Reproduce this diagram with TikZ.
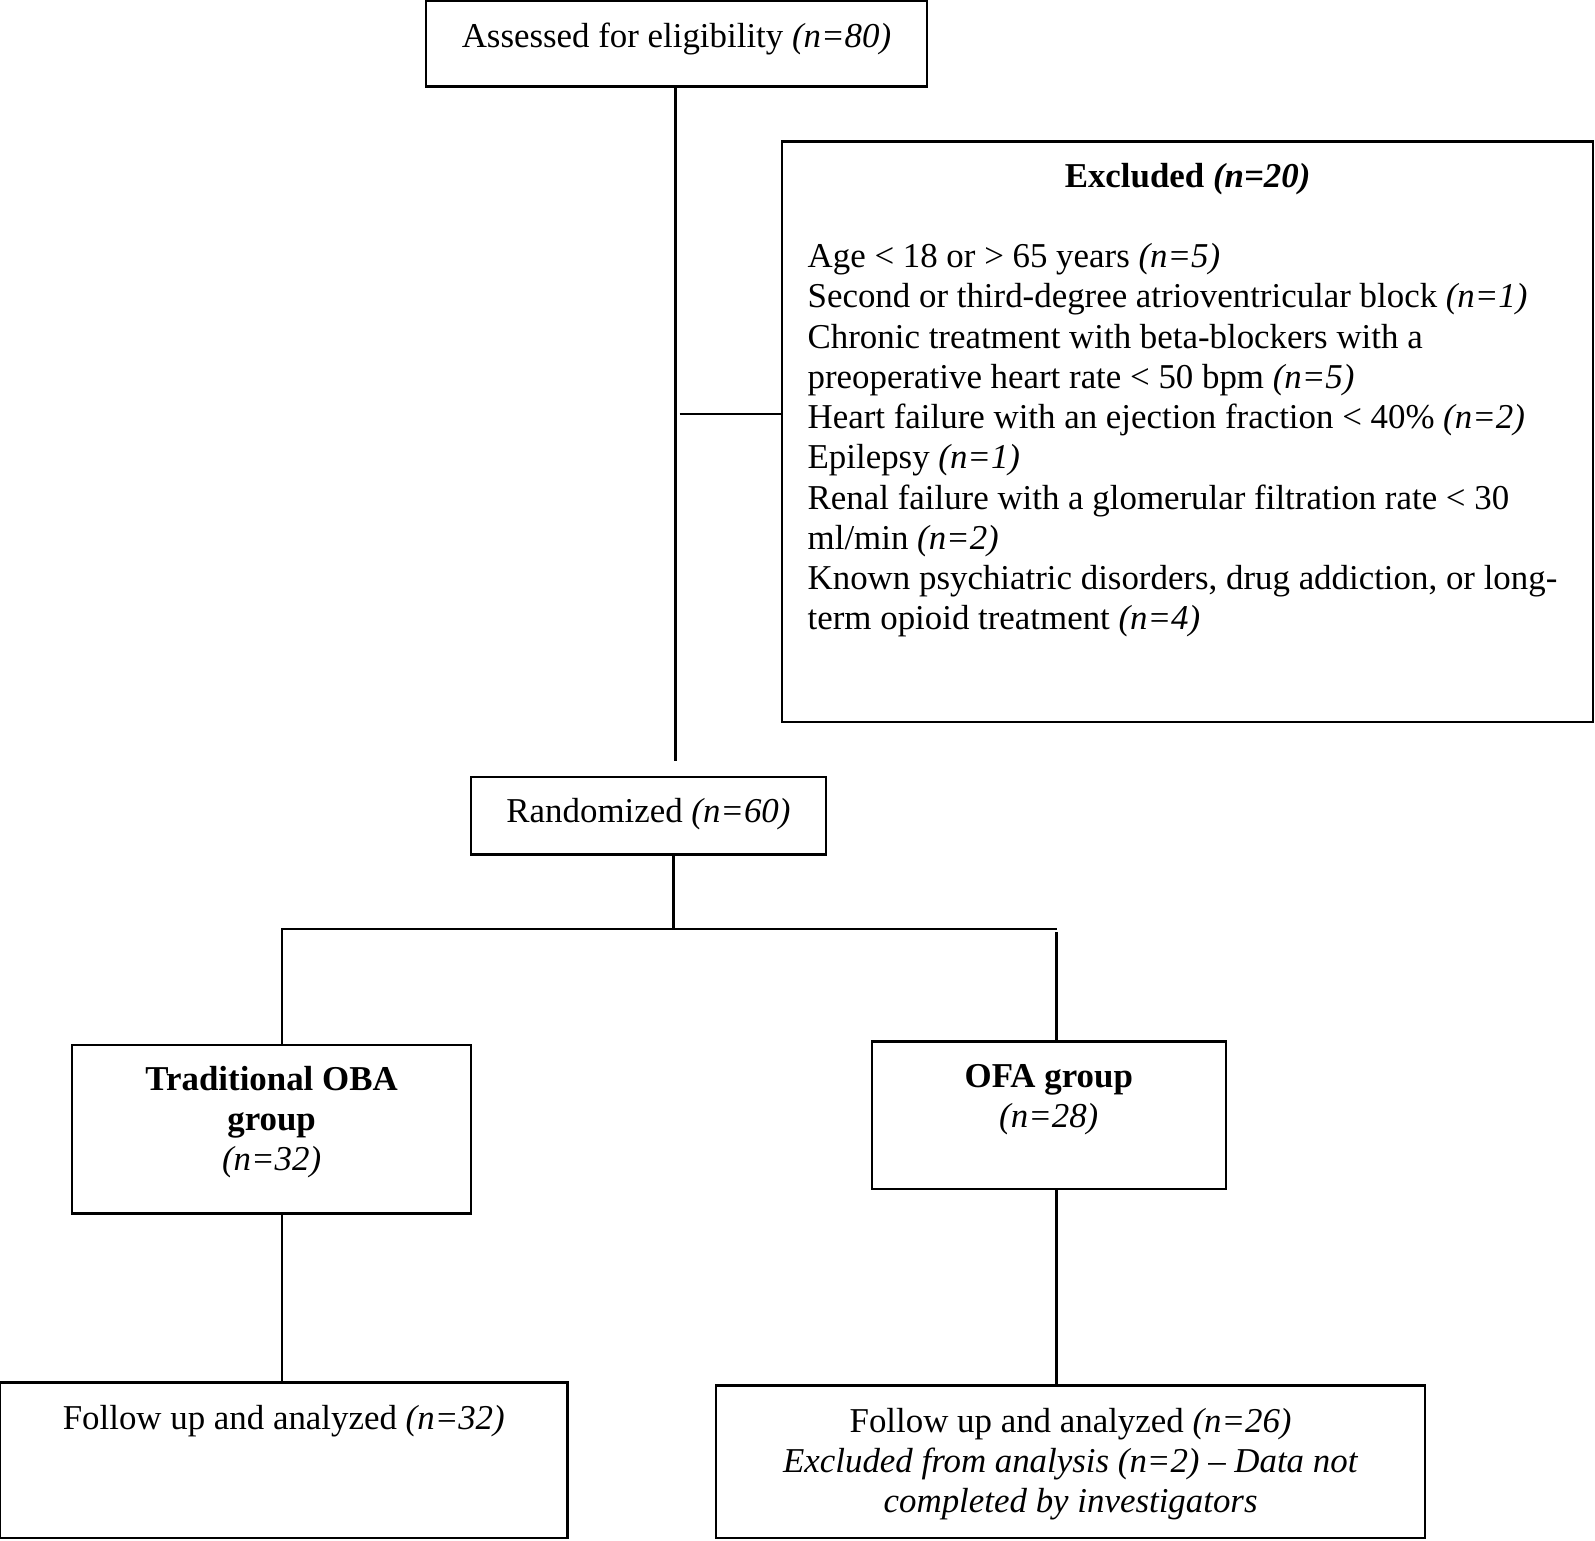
\documentclass[tikz,border=0pt]{standalone}
\usepackage{fontspec}
\setmainfont{Liberation Serif}
\newlength\pxu
\setlength\pxu{0.35pt}
\newcommand{\boxtext}[4]{\parbox[b][#2\pxu][t]{#1\pxu}{\vspace*{#3\pxu}#4}}
\begin{document}
\begin{tikzpicture}[x=0.35pt, y=-0.35pt,
  font=\fontsize{12}{13.85}\selectfont,
  box/.style={draw, line width=0.8pt, inner sep=0pt, outer sep=0pt, anchor=north west},
  conn/.style={line width=0.8pt}]
\useasboundingbox (0,0) rectangle (1568,1514);

\node[box] (assess) at (419,1) {\boxtext{492}{84}{18.3}{\centering\strut Assessed for eligibility \textit{(n=80)}\par}};

\node[box] (excl) at (769,139) {\boxtext{797}{571}{17.3}{\centering\strut\textbf{Excluded \textit{(n=20)}}\par
\strut\par
\raggedright\leftskip=25\pxu
\strut Age < 18 or > 65 years \textit{(n=5)}\\
Second or third-degree atrioventricular block \textit{(n=1)}\\
Chronic treatment with beta-blockers with a\\
preoperative heart rate < 50 bpm \textit{(n=5)}\\
Heart failure with an ejection fraction < 40\% \textit{(n=2)}\\
Epilepsy \textit{(n=1)}\\
Renal failure with a glomerular filtration rate < 30\\
ml/min \textit{(n=2)}\\
Known psychiatric disorders, drug addiction, or long-\\
term opioid treatment \textit{(n=4)}\par}};

\node[box] (rand) at (463,764) {\boxtext{349}{76}{17.3}{\centering\strut Randomized \textit{(n=60)}\par}};

\node[box] (oba) at (71,1027) {\boxtext{392}{166}{17.3}{\centering\strut\textbf{Traditional OBA}\\ \textbf{group}\\ \textit{(n=32)}\par}};

\node[box] (ofa) at (857,1024) {\boxtext{348}{145}{17.3}{\centering\strut\textbf{OFA group}\\ \textit{(n=28)}\par}};

\node[box] (fl) at (0,1359) {\boxtext{558}{153}{18.3}{\centering\strut Follow up and analyzed \textit{(n=32)}\par}};

\node[box] (fr) at (704,1362) {\boxtext{697}{150}{18.3}{\centering\strut Follow up and analyzed \textit{(n=26)}\\ \textit{Excluded from analysis (n=2) \textendash{} Data not}\\ \textit{completed by investigators}\par}};

\coordinate (c1) at (664,748);
\coordinate (c2) at (668,407);
\coordinate (c3) at (662,913);
\coordinate (c4) at (277,913);
\coordinate (c5) at (1039.5,913);
\coordinate (c6) at (1038.5,916);

\draw[conn] (assess.south -| c1) -- (c1);
\draw[conn] (c2) -- (c2 -| excl.west);
\draw[conn] (rand.south -| c3) -- (c3);
\draw[conn] (oba.north -| c4) -- (c4) -- (c5);
\draw[conn] (c6) -- (c6 |- ofa.north);
\draw[conn] (oba.south -| c4) -- (fl.north -| c4);
\draw[conn] (ofa.south -| c6) -- (fr.north -| c6);
\end{tikzpicture}
\end{document}
